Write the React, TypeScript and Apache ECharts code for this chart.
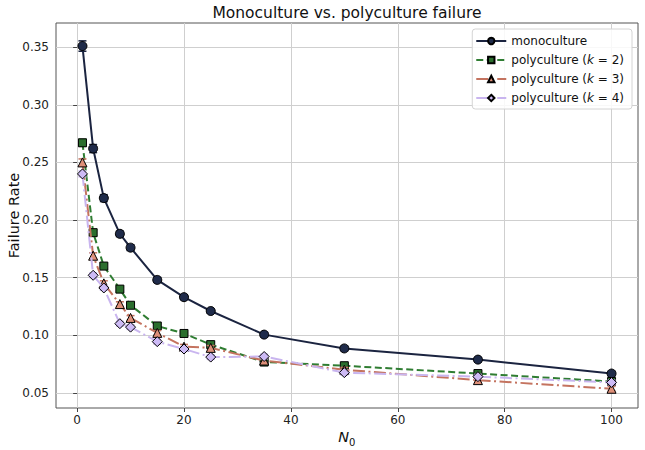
import React, { useEffect, useRef } from "react";
import * as echarts from "echarts";

// Starting population sizes
const N0 = [1, 3, 5, 8, 10, 15, 20, 25, 35, 50, 75, 100];

// Mean failure rates
const mono = [0.351, 0.262, 0.219, 0.188, 0.176, 0.148, 0.133, 0.121, 0.1005, 0.0885, 0.0788, 0.0667];
const poly2 = [0.267, 0.189, 0.16, 0.14, 0.126, 0.108, 0.1015, 0.0918, 0.0767, 0.0735, 0.0667, 0.0598];
const poly3 = [0.25, 0.169, 0.145, 0.127, 0.115, 0.102, 0.09, 0.089, 0.078, 0.07, 0.061, 0.0535];
const poly4 = [0.24, 0.152, 0.141, 0.11, 0.107, 0.0944, 0.088, 0.081, 0.0815, 0.0675, 0.064, 0.059];

// Standard errors
const monoErr = [0.0045, 0.0035, 0.003, 0.0025, 0.0025, 0.0022, 0.0022, 0.002, 0.002, 0.002, 0.002, 0.002];
const poly2Err = [0.003, 0.0025, 0.0022, 0.002, 0.002, 0.002, 0.002, 0.002, 0.002, 0.002, 0.002, 0.002];
const poly3Err = [0.003, 0.0025, 0.0022, 0.002, 0.002, 0.002, 0.002, 0.002, 0.002, 0.002, 0.002, 0.002];
const poly4Err = [0.0025, 0.002, 0.002, 0.002, 0.002, 0.002, 0.002, 0.002, 0.002, 0.002, 0.002, 0.002];

const xTicks = [0, 20, 40, 60, 80, 100];
const yTicks = [0.05, 0.1, 0.15, 0.2, 0.25, 0.3, 0.35];

const FONT = "DejaVu Sans";

const X_MIN = -3.95;
const X_MAX = 104.95;
const Y_MIN = 0.0368;
const Y_MAX = 0.371;

type Spec = {
  name: string;
  values: number[];
  errs: number[];
  line: string;
  fill: string;
  symbol: string;
  size: number;
  dash: any;
};

const specs: Spec[] = [
  { name: "monoculture", values: mono, errs: monoErr, line: "#1b2440", fill: "#1f2b4a", symbol: "circle", size: 9, dash: "solid" },
  { name: "polyculture (k = 2)", values: poly2, errs: poly2Err, line: "#2f7d32", fill: "#2b6e2e", symbol: "rect", size: 8, dash: [7, 3.5] },
  { name: "polyculture (k = 3)", values: poly3, errs: poly3Err, line: "#c4735f", fill: "#de8f78", symbol: "triangle", size: 9, dash: [12, 3.5, 2, 3.5] },
  { name: "polyculture (k = 4)", values: poly4, errs: poly4Err, line: "#c9b5ef", fill: "#cdbaf5", symbol: "diamond", size: 10, dash: [12, 3.5, 2, 3.5] },
];

function buildOption(): any {
  const series: any[] = [];
  specs.forEach((s, i) => {
    series.push({
      type: "custom",
      name: s.name + " err",
      z: 2 + i * 2,
      silent: true,
      data: N0.map((x, j) => [x, s.values[j] - s.errs[j], s.values[j] + s.errs[j]]),
      renderItem: (_params: any, api: any) => {
        const x = api.value(0);
        const top = api.coord([x, api.value(2)]);
        const bot = api.coord([x, api.value(1)]);
        const cap = 4;
        const style = { stroke: s.line, lineWidth: 1.5 };
        return {
          type: "group",
          children: [
            { type: "line", shape: { x1: top[0], y1: top[1], x2: bot[0], y2: bot[1] }, style },
            { type: "line", shape: { x1: top[0] - cap, y1: top[1], x2: top[0] + cap, y2: top[1] }, style },
            { type: "line", shape: { x1: bot[0] - cap, y1: bot[1], x2: bot[0] + cap, y2: bot[1] }, style },
          ],
        };
      },
    });
    series.push({
      type: "line",
      name: s.name,
      z: 3 + i * 2,
      data: N0.map((x, j) => [x, s.values[j]]),
      symbol: s.symbol,
      symbolSize: s.size,
      showAllSymbol: true,
      lineStyle: { color: s.line, width: 2, type: s.dash },
      itemStyle: { color: s.fill, borderColor: "#000", borderWidth: 1, opacity: 1 },
      emphasis: { disabled: true },
    });
  });

  return {
    animation: false,
    backgroundColor: "#fff",
    textStyle: { fontFamily: FONT },
    grid: {
      left: 56,
      right: 7,
      top: 23,
      bottom: 42,
      outerBoundsMode: "none",
      containLabel: false,
      show: true,
      borderColor: "#555",
      borderWidth: 1,
      backgroundColor: "transparent",
    },
    xAxis: {
      type: "value",
      min: X_MIN,
      max: X_MAX,
      axisLine: { show: false },
      axisTick: { show: true, length: 4, lineStyle: { color: "#444" }, customValues: xTicks },
      axisLabel: {
        customValues: xTicks,
        color: "#222",
        fontSize: 12,
        fontFamily: FONT,
        margin: 6,
        formatter: (v: number) => String(Math.round(v)),
      },
      splitLine: { show: true, lineStyle: { color: "#cfcfcf", width: 1 } },
    },
    yAxis: {
      type: "value",
      min: Y_MIN,
      max: Y_MAX,
      name: "Failure Rate",
      nameLocation: "middle",
      nameGap: 35,
      nameMoveOverlap: false,
      nameTextStyle: { fontSize: 14.5, color: "#111", fontFamily: FONT },
      axisLine: { show: false },
      axisTick: { show: true, length: 4, lineStyle: { color: "#444" }, customValues: yTicks },
      axisLabel: {
        customValues: yTicks,
        color: "#222",
        fontSize: 12,
        fontFamily: FONT,
        margin: 7,
        formatter: (v: number) => v.toFixed(2),
      },
      splitLine: { show: true, lineStyle: { color: "#cfcfcf", width: 1 } },
    },
    legend: {
      data: specs.map((s) => s.name),
      orient: "vertical",
      right: 13,
      top: 29,
      padding: [5, 8, 4, 3],
      itemGap: 5,
      itemWidth: 30,
      itemHeight: 8,
      backgroundColor: "rgba(255,255,255,0.85)",
      borderColor: "#d4d4d4",
      borderWidth: 1,
      borderRadius: 3,
      selectedMode: false,
      formatter: (name: string) => name.replace("k", "{i|k}"),
      textStyle: {
        fontSize: 12,
        lineHeight: 14,
        color: "#111",
        fontFamily: FONT,
        rich: { i: { fontStyle: "italic", fontSize: 12, lineHeight: 14, color: "#111", fontFamily: FONT } },
      },
    },
    graphic: [
      {
        type: "text",
        x: 347,
        y: 5,
        style: {
          text: "Monoculture vs. polyculture failure",
          fontSize: 15.5,
          fontFamily: FONT,
          fill: "#111",
          textAlign: "center",
          textVerticalAlign: "top",
        },
      },
      {
        type: "text",
        x: 349,
        y: 437,
        style: {
          text: "N",
          fontSize: 14.5,
          fontStyle: "italic",
          fontFamily: FONT,
          fill: "#111",
          textAlign: "right",
          textVerticalAlign: "middle",
        },
      },
      {
        type: "text",
        x: 349,
        y: 442,
        style: {
          text: "0",
          fontSize: 10,
          fontFamily: FONT,
          fill: "#111",
          textAlign: "left",
          textVerticalAlign: "middle",
        },
      },
    ],
    series,
  };
}

export default function App() {
  const ref = useRef<HTMLDivElement>(null);
  useEffect(() => {
    if (!ref.current) return;
    const chart = echarts.init(ref.current, undefined, { renderer: "svg" });
    chart.setOption(buildOption());
    return () => chart.dispose();
  }, []);
  return (
    <div
      ref={ref}
      style={{ position: "fixed", left: 0, top: 0, width: 645, height: 450, background: "#fff" }}
    />
  );
}
